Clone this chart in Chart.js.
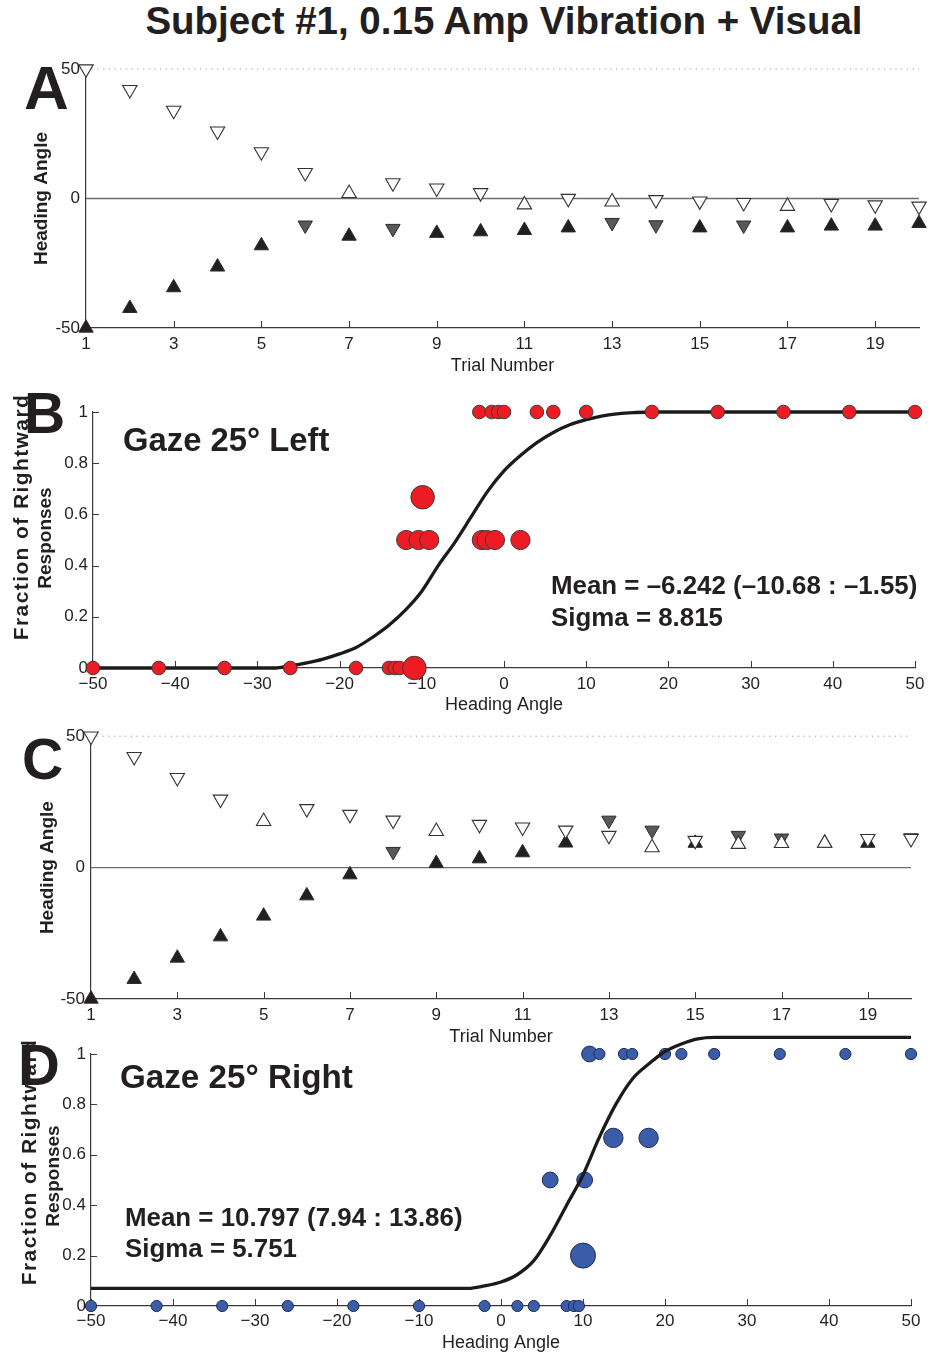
<!DOCTYPE html>
<html><head><meta charset="utf-8">
<script src="https://cdn.jsdelivr.net/npm/chart.js@4.4.1/dist/chart.umd.min.js"></script>
<style>
html,body{margin:0;padding:0;background:#fff;}
body{width:937px;height:1354px;position:relative;overflow:hidden;font-family:"Liberation Sans",Arial,sans-serif;color:#231f20;}
canvas{position:absolute;left:0;}
.t{position:absolute;white-space:nowrap;font-weight:bold;line-height:1;color:#231f20;}
.r{position:absolute;white-space:nowrap;font-weight:bold;line-height:1;color:#231f20;transform:translate(-50%,-50%) rotate(-90deg);}
</style></head><body>
<canvas id="cA" width="937" height="335" style="top:50px"></canvas>
<canvas id="cB" width="937" height="335" style="top:385px"></canvas>
<canvas id="cC" width="937" height="330" style="top:720px"></canvas>
<canvas id="cD" width="937" height="334" style="top:1020px"></canvas>

<div class="t" style="left:0;width:1008px;text-align:center;top:2px;font-size:38.5px;">Subject #1, 0.15 Amp Vibration + Visual</div>
<div class="t" style="left:24px;top:57px;font-size:62px;">A</div>
<div class="t" style="left:24px;top:385px;font-size:57px;">B</div>
<div class="t" style="left:22px;top:731px;font-size:57px;">C</div>
<div class="t" style="left:18px;top:1036px;font-size:58px;">D</div>
<div class="t" style="left:123px;top:424px;font-size:32.8px;">Gaze 25° Left</div>
<div class="t" style="left:551px;top:573px;font-size:25.9px;">Mean = –6.242 (–10.68 : –1.55)</div>
<div class="t" style="left:551px;top:605px;font-size:25.9px;">Sigma = 8.815</div>
<div class="t" style="left:120px;top:1060px;font-size:33.2px;">Gaze 25° Right</div>
<div class="t" style="left:125px;top:1205px;font-size:25.9px;">Mean = 10.797 (7.94 : 13.86)</div>
<div class="t" style="left:125px;top:1236px;font-size:25.9px;">Sigma = 5.751</div>

<div class="r" style="left:20px;top:517px;font-size:21px;letter-spacing:1.4px;">Fraction of Rightward</div>
<div class="r" style="left:44px;top:538px;font-size:19px;">Responses</div>
<div class="r" style="left:28px;top:1162px;font-size:21px;letter-spacing:1.4px;">Fraction of Rightward</div>
<div class="r" style="left:52px;top:1176px;font-size:19px;">Responses</div>

<script>
// ---------------- DATA ----------------
const trialNumbers = [1,2,3,4,5,6,7,8,9,10,11,12,13,14,15,16,17,18,19,20];
const trialTicks = [1,3,5,7,9,11,13,15,17,19];
const trialTickLabels = ['1','3','5','7','9','11','13','15','17','19'];
const stairYTicks = [-50,0,50];
const stairYTickLabels = ['-50','0','50'];

// Panel A staircases (response: 1 = up triangle, 0 = down triangle)
const A_stair1_heading = [50,42,34,26,18,10,2,6,4,2.2,-2.4,0,-1.3,-0.5,-1,-1.6,-3,-2,-2.5,-3];
const A_stair1_resp    = [0,0,0,0,0,0,1,0,0,0,1,0,1,0,0,0,1,0,0,0];
const A_stair2_heading = [-50,-42.4,-34.4,-26.4,-18.2,-10.3,-14.5,-11.6,-13.4,-12.8,-12.3,-11.3,-9.3,-10.2,-11.3,-10.3,-11.3,-10.6,-10.6,-9.6];
const A_stair2_resp    = [1,1,1,1,1,0,1,0,1,1,1,1,0,0,1,0,1,1,1,1];

// Panel C staircases
const C_stair1_heading = [50,42.2,34.2,26,17.6,22.4,20.2,18,13.8,16.4,15.4,14.2,12.2,7.6,10.3,8.9,9.2,9.3,11,11];
const C_stair1_resp    = [0,0,0,0,1,0,0,0,1,0,0,0,0,1,0,1,1,1,0,0];
const C_stair2_heading = [-50,-42.5,-34.4,-26.3,-18.4,-10.7,-2.7,6.1,1.6,3.4,5.7,9.4,18,14.2,9.3,12.2,11.2,9.3,9.3,11.3];
const C_stair2_resp    = [1,1,1,1,1,1,1,0,1,1,1,1,0,0,1,0,0,1,1,0];

// Psychometric axes
const psychXTicks = [-50,-40,-30,-20,-10,0,10,20,30,40,50];
const psychXTickLabels = ['\u221250','\u221240','\u221230','\u221220','\u221210','0','10','20','30','40','50'];
const psychYTicks = [0,0.2,0.4,0.6,0.8,1];
const psychYTickLabels = ['0','0.2','0.4','0.6','0.8','1'];

// Panel B: heading, fraction rightward, number of trials
const B_heading  = [-50,-42,-34,-26,-18,-14,-13.3,-12.7,-10.9, -11.9,-10.4,-9.1,-2.7,-2.1,-1.1,2, -9.9, -3,-1.5,-0.7,0,4,6,10,18,26,34,42,50];
const B_fraction = [0,0,0,0,0,0,0,0,0, 0.5,0.5,0.5,0.5,0.5,0.5,0.5, 0.667, 1,1,1,1,1,1,1,1,1,1,1,1];
const B_nTrials  = [1,1,1,1,1,1,1,1,3, 2,2,2,2,2,2,2, 3, 1,1,1,1,1,1,1,1,1,1,1,1];
const B_fitHeading  = [-50,-28,-26,-24,-22,-20,-18,-16,-14,-12,-10,-8,-6,-4,-2,0,2,4,6,8,10,12,14,16,18,50];
const B_fitFraction = [0,0,0.008,0.02,0.035,0.055,0.08,0.12,0.167,0.226,0.30,0.40,0.49,0.59,0.69,0.77,0.83,0.88,0.92,0.95,0.97,0.985,0.994,0.998,1,1];

// Panel D
const D_heading  = [-50,-42,-34,-26,-18,-10,-2,2,4,8,8.9,9.5, 10, 6,10.2, 13.7,18, 10.8,12,15,16,20,22,26,34,42,50];
const D_fraction = [0,0,0,0,0,0,0,0,0,0,0,0, 0.2, 0.5,0.5, 0.667,0.667, 1,1,1,1,1,1,1,1,1,1];
const D_nTrials  = [1,1,1,1,1,1,1,1,1,1,1,1, 5, 2,2, 3,3, 2,1,1,1,1,1,1,1,1,1];
const D_fitHeading  = [-50,-4,-2,0,2,4,6,8,10,12,14,16,18,20,22,24,26,50];
const D_fitFraction = [0.07,0.07,0.08,0.095,0.125,0.18,0.28,0.40,0.52,0.67,0.80,0.90,0.96,1.01,1.04,1.06,1.066,1.066];

// ---------------- CHARTS ----------------
Chart.defaults.font.family = '"Liberation Sans", Arial, sans-serif';
Chart.defaults.color = '#231f20';
const INK = '#231f20';
const AXIS = '#3a3a3a';

const decor = {
  id: 'decor',
  beforeDatasetsDraw(chart, args, o) {
    const {ctx, chartArea: a, scales: {x, y}} = chart;
    ctx.save();
    if (o.refLines) {
      ctx.strokeStyle = '#6d6e70'; ctx.lineWidth = 1.3; ctx.setLineDash([]);
      ctx.beginPath(); ctx.moveTo(a.left, y.getPixelForValue(0)); ctx.lineTo(a.right, y.getPixelForValue(0)); ctx.stroke();
      ctx.strokeStyle = '#9a9a9a'; ctx.lineWidth = 1; ctx.setLineDash([1.2, 4.5]);
      ctx.beginPath(); ctx.moveTo(a.left, y.getPixelForValue(50)); ctx.lineTo(a.right, y.getPixelForValue(50)); ctx.stroke();
      ctx.setLineDash([]);
    }
    ctx.strokeStyle = AXIS; ctx.lineWidth = 1;
    if (o.xTicks) {
      x.ticks.forEach(t => { const px = Math.round(x.getPixelForValue(t.value)) + 0.5;
        ctx.beginPath(); ctx.moveTo(px, a.bottom); ctx.lineTo(px, a.bottom - 7); ctx.stroke(); });
    }
    if (o.yTicks) {
      y.ticks.forEach(t => { const py = Math.round(y.getPixelForValue(t.value)) + 0.5;
        ctx.beginPath(); ctx.moveTo(a.left, py); ctx.lineTo(a.left + 6, py); ctx.stroke(); });
    }
    ctx.restore();
  }
};

function axisCfg(opts) {
  return {
    type: 'linear', min: opts.min, max: opts.max,
    grid: {display: false, drawTicks: false},
    border: {display: true, color: AXIS, width: 1.2},
    afterBuildTicks: s => { s.ticks = opts.ticks.map(v => ({value: v})); },
    afterFit: s => { if (opts.width !== undefined) s.width = opts.width; if (opts.height !== undefined) s.height = opts.height; },
    ticks: {padding: opts.tickPad, font: {size: 17}, color: INK, autoSkip: false, maxRotation: 0,
      callback: (v, i) => opts.labels[i]},
    title: {display: !!opts.title, text: opts.title || '', color: INK,
      font: {size: opts.titleSize, weight: opts.titleBold ? 'bold' : 'normal', lineHeight: 1.2},
      padding: opts.titlePad}
  };
}

function stairSets(h1, r1, h2, r2) {
  return [
    {
      data: trialNumbers.map((t, i) => ({x: t, y: h2[i]})),
      pointStyle: 'triangle', pointRadius: 8.3,
      pointRotation: r2.map(r => r ? 0 : 180),
      pointBackgroundColor: r2.map(r => r ? '#231f20' : '#58595b'),
      pointBorderColor: '#2b2b2b', pointBorderWidth: 1,
      showLine: false, clip: false, order: 2
    },
    {
      data: trialNumbers.map((t, i) => ({x: t, y: h1[i]})),
      pointStyle: 'triangle', pointRadius: 8.3,
      pointRotation: r1.map(r => r ? 0 : 180),
      pointBackgroundColor: '#ffffff',
      pointBorderColor: '#333333', pointBorderWidth: 1.1,
      showLine: false, clip: false, order: 1
    }
  ];
}

function makeStair(id, sets, L) {
  return new Chart(document.getElementById(id), {
    type: 'scatter',
    data: {datasets: sets},
    options: {
      responsive: false, animation: false, events: [],
      layout: {padding: {top: L.padTop, right: L.padRight, left: 0, bottom: 0}},
      plugins: {legend: {display: false}, tooltip: {enabled: false}, decor: {refLines: true, xTicks: true, yTicks: false}},
      scales: {
        x: axisCfg({min: 1, max: 20, ticks: trialTicks, labels: trialTickLabels, height: L.xH, tickPad: 6,
          title: 'Trial Number', titleSize: 18, titleBold: false, titlePad: {top: 0, bottom: L.xTitlePad}}),
        y: axisCfg({min: -50, max: 50, ticks: stairYTicks, labels: stairYTickLabels, width: L.yW, tickPad: 6,
          title: 'Heading Angle', titleSize: 19, titleBold: true, titlePad: {top: L.yTitlePad, bottom: 0}})
      }
    },
    plugins: [decor]
  });
}

function makePsych(id, hd, fr, nt, fitH, fitF, color, edge, rk, curveOnTop, L) {
  return new Chart(document.getElementById(id), {
    type: 'scatter',
    data: {datasets: [
      { data: hd.map((h, i) => ({x: h, y: fr[i]})),
        pointStyle: 'circle', pointRadius: nt.map(n => rk * Math.sqrt(n)),
        pointBackgroundColor: color, pointBorderColor: edge, pointBorderWidth: 1,
        showLine: false, clip: false, order: curveOnTop ? 2 : 1 },
      { data: fitH.map((h, i) => ({x: h, y: fitF[i]})),
        showLine: true, pointRadius: 0, borderColor: '#1b1b1b', borderWidth: 3.3,
        cubicInterpolationMode: 'monotone', clip: false, order: curveOnTop ? 1 : 2 }
    ]},
    options: {
      responsive: false, animation: false, events: [],
      layout: {padding: {top: L.padTop, right: L.padRight, left: 0, bottom: 0}},
      plugins: {legend: {display: false}, tooltip: {enabled: false}, decor: {refLines: false, xTicks: true, yTicks: true}},
      scales: {
        x: axisCfg({min: -50, max: 50, ticks: psychXTicks, labels: psychXTickLabels, height: L.xH, tickPad: L.xTickPad,
          title: 'Heading Angle', titleSize: 18, titleBold: false, titlePad: {top: 0, bottom: L.xTitlePad}}),
        y: axisCfg({min: 0, max: 1, ticks: psychYTicks, labels: psychYTickLabels, width: L.yW, tickPad: 5,
          title: null})
      }
    },
    plugins: [decor]
  });
}

makeStair('cA', stairSets(A_stair1_heading, A_stair1_resp, A_stair2_heading, A_stair2_resp),
  {padTop: 19, padRight: 18, xH: 57, yW: 86, xTitlePad: 8.2, yTitlePad: 30.6});
makePsych('cB', B_heading, B_fraction, B_nTrials, B_fitHeading, B_fitFraction, '#ed1c24', '#3a3a3a', 6.8, false,
  {padTop: 27, padRight: 22, xH: 52, yW: 93, xTickPad: 5.8, xTitlePad: 4.2});
makeStair('cC', stairSets(C_stair1_heading, C_stair1_resp, C_stair2_heading, C_stair2_resp),
  {padTop: 16, padRight: 26, xH: 51, yW: 91, xTitlePad: 2.2, yTitlePad: 36.6});
makePsych('cD', D_heading, D_fraction, D_nTrials, D_fitHeading, D_fitFraction, '#3b5ca8', '#1e2d55', 5.6, true,
  {padTop: 34, padRight: 26, xH: 48, yW: 91, xTickPad: 4.8, xTitlePad: 0.2});
</script>
</body></html>
